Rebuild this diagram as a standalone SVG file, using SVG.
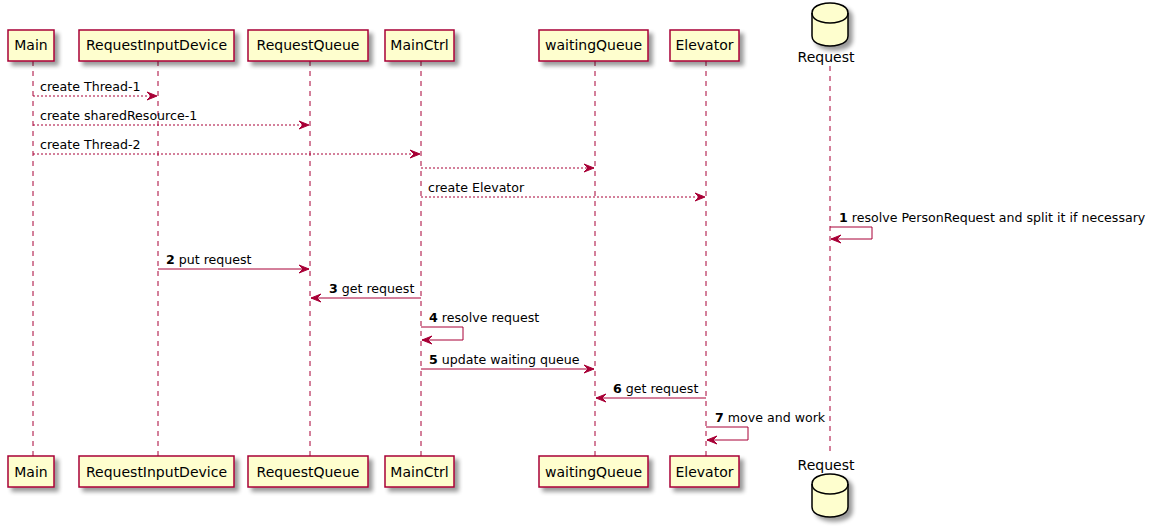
<svg xmlns="http://www.w3.org/2000/svg" width="1157" height="531" viewBox="0 0 1157 531">
<defs>
<filter id="sh" x="-20%" y="-20%" width="160%" height="160%">
<feGaussianBlur in="SourceAlpha" stdDeviation="2" result="b"/>
<feOffset in="b" dx="4" dy="4" result="o"/>
<feComponentTransfer in="o" result="o2"><feFuncA type="linear" slope="0.4"/></feComponentTransfer>
<feMerge><feMergeNode in="o2"/><feMergeNode in="SourceGraphic"/></feMerge>
</filter>
<marker id="ar" viewBox="-1 -1 12 10" refX="10" refY="4" markerWidth="12" markerHeight="10" markerUnits="userSpaceOnUse" orient="auto">
<polygon points="0,0 10,4 0,8 4,4" fill="#A80036" stroke="#A80036" stroke-width="1" stroke-linejoin="miter"/>
</marker>
</defs>
<style>
.box{fill:#FEFECE;stroke:#A80036;stroke-width:1.5;filter:url(#sh)}
.db{fill:#FEFECE;stroke:#000000;stroke-width:1.5;filter:url(#sh)}
.life{stroke:#A80036;stroke-width:1;stroke-dasharray:5,5;fill:none}
.pt{font-family:"DejaVu Sans",sans-serif;font-size:14px;fill:#000000}
.mt{font-family:"DejaVu Sans",sans-serif;font-size:12.6px;fill:#000000}
.msg{stroke:#A80036;stroke-width:1;fill:none;marker-end:url(#ar)}
.dash{stroke-dasharray:2,2}
.b{font-weight:bold}
</style>
<g id="lifelines">
<line class="life" x1="33" y1="61" x2="33" y2="456"/>
<line class="life" x1="158" y1="61" x2="158" y2="456"/>
<line class="life" x1="310" y1="61" x2="310" y2="456"/>
<line class="life" x1="421" y1="61" x2="421" y2="456"/>
<line class="life" x1="595" y1="61" x2="595" y2="456"/>
<line class="life" x1="706" y1="61" x2="706" y2="456"/>
<line class="life" x1="830" y1="66" x2="830" y2="456"/>
</g>
<g id="Main">
<rect class="box" x="8" y="30" width="46" height="31"/>
<text class="pt" x="31" y="50" text-anchor="middle">Main</text>
<rect class="box" x="8" y="456" width="46" height="31"/>
<text class="pt" x="31" y="477" text-anchor="middle">Main</text>
</g>
<g id="RequestInputDevice">
<rect class="box" x="79" y="30" width="155" height="31"/>
<text class="pt" x="156.5" y="50" text-anchor="middle">RequestInputDevice</text>
<rect class="box" x="79" y="456" width="155" height="31"/>
<text class="pt" x="156.5" y="477" text-anchor="middle">RequestInputDevice</text>
</g>
<g id="RequestQueue">
<rect class="box" x="248" y="30" width="120" height="31"/>
<text class="pt" x="308" y="50" text-anchor="middle">RequestQueue</text>
<rect class="box" x="248" y="456" width="120" height="31"/>
<text class="pt" x="308" y="477" text-anchor="middle">RequestQueue</text>
</g>
<g id="MainCtrl">
<rect class="box" x="385" y="30" width="69" height="31"/>
<text class="pt" x="419.5" y="50" text-anchor="middle">MainCtrl</text>
<rect class="box" x="385" y="456" width="69" height="31"/>
<text class="pt" x="419.5" y="477" text-anchor="middle">MainCtrl</text>
</g>
<g id="waitingQueue">
<rect class="box" x="539" y="30" width="109" height="31"/>
<text class="pt" x="593.5" y="50" text-anchor="middle">waitingQueue</text>
<rect class="box" x="539" y="456" width="109" height="31"/>
<text class="pt" x="593.5" y="477" text-anchor="middle">waitingQueue</text>
</g>
<g id="Elevator">
<rect class="box" x="670" y="30" width="69" height="31"/>
<text class="pt" x="704.5" y="50" text-anchor="middle">Elevator</text>
<rect class="box" x="670" y="456" width="69" height="31"/>
<text class="pt" x="704.5" y="477" text-anchor="middle">Elevator</text>
</g>
<g id="Request">
<path class="db" d="M812,13 C812,3 830,3 830,3 C830,3 848,3 848,13 L848,36 C848,46 830,46 830,46 C830,46 812,46 812,36 Z"/>
<path d="M812,13 C812,23 830,23 830,23 C830,23 848,23 848,13" fill="none" stroke="#000000" stroke-width="1.5"/>
<text class="pt" x="826" y="62" text-anchor="middle">Request</text>
<path class="db" d="M812,484 C812,474 830,474 830,474 C830,474 848,474 848,484 L848,507 C848,517 830,517 830,517 C830,517 812,517 812,507 Z"/>
<path d="M812,484 C812,494 830,494 830,494 C830,494 848,494 848,484" fill="none" stroke="#000000" stroke-width="1.5"/>
<text class="pt" x="826" y="470" text-anchor="middle">Request</text>
</g>
<g id="connectors">
<line class="msg dash" x1="33" y1="96" x2="157" y2="96"/>
<text class="mt" x="40" y="90.5">create Thread-1</text>
<line class="msg dash" x1="33" y1="125" x2="309" y2="125"/>
<text class="mt" x="40" y="119.5">create sharedResource-1</text>
<line class="msg dash" x1="33" y1="154" x2="420" y2="154"/>
<text class="mt" x="40" y="148.5">create Thread-2</text>
<line class="msg dash" x1="421" y1="168" x2="594" y2="168"/>
<line class="msg dash" x1="421" y1="197" x2="705" y2="197"/>
<text class="mt" x="428" y="191.5">create Elevator</text>
<polyline class="msg" points="830,227 872,227 872,239 831,239"/>
<text class="mt" x="839" y="221.5"><tspan class="b">1</tspan> resolve PersonRequest and split it if necessary</text>
<line class="msg" x1="158" y1="269" x2="309" y2="269"/>
<text class="mt" x="166" y="263.5"><tspan class="b">2</tspan> put request</text>
<line class="msg" x1="421" y1="298" x2="311" y2="298"/>
<text class="mt" x="329" y="292.5"><tspan class="b">3</tspan> get request</text>
<polyline class="msg" points="421,327 463,327 463,340 422,340"/>
<text class="mt" x="429" y="321.5"><tspan class="b">4</tspan> resolve request</text>
<line class="msg" x1="421" y1="369" x2="594" y2="369"/>
<text class="mt" x="429" y="363.5"><tspan class="b">5</tspan> update waiting queue</text>
<line class="msg" x1="706" y1="398" x2="596" y2="398"/>
<text class="mt" x="613" y="392.5"><tspan class="b">6</tspan> get request</text>
<polyline class="msg" points="706,427 748,427 748,440 707,440"/>
<text class="mt" x="715" y="421.5"><tspan class="b">7</tspan> move and work</text>
</g>
</svg>
